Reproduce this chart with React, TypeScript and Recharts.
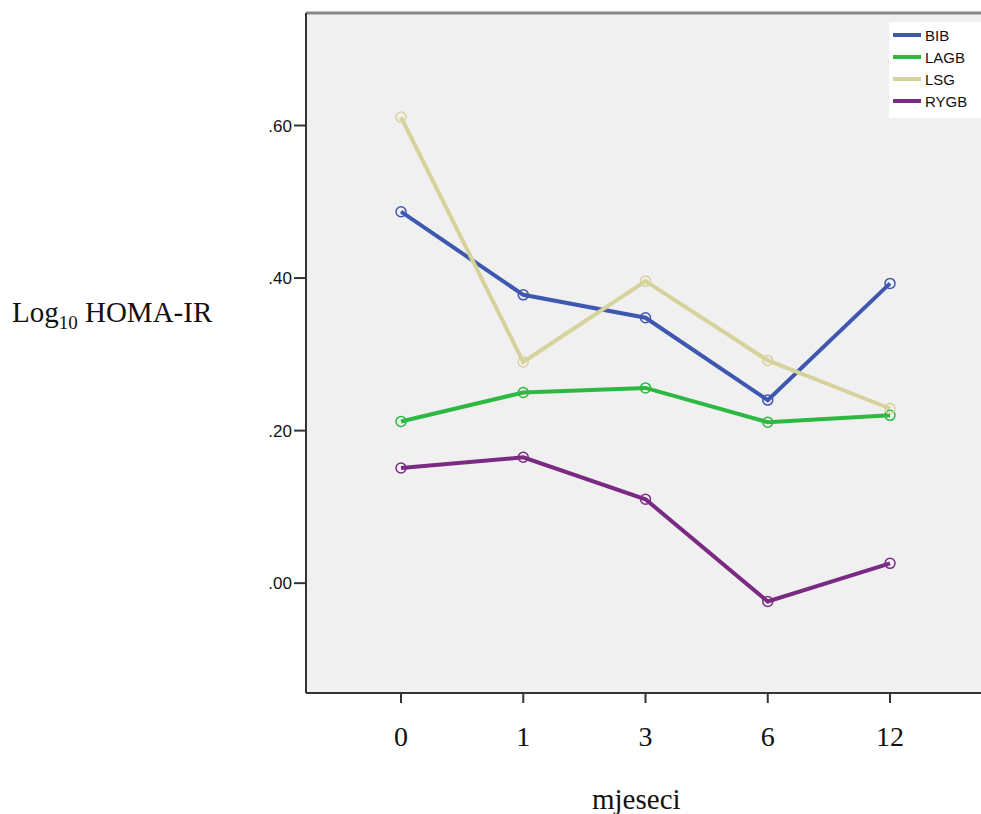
import { LineChart, Line, XAxis, YAxis, CartesianGrid, ReferenceLine } from "recharts"

const months = ["0", "1", "3", "6", "12"]
const bib = [0.487, 0.378, 0.348, 0.24, 0.393]
const lagb = [0.212, 0.25, 0.256, 0.211, 0.22]
const lsg = [0.611, 0.29, 0.396, 0.292, 0.229]
const rygb = [0.151, 0.165, 0.11, -0.024, 0.026]
const yTicks = [0, 0.2, 0.4, 0.6]

const series = [
  { key: "BIB", values: bib, color: "#3e58b0" },
  { key: "LAGB", values: lagb, color: "#2db842" },
  { key: "LSG", values: lsg, color: "#d6d29c" },
  { key: "RYGB", values: rygb, color: "#7b2a83" },
]

const data = months.map((m, i) => {
  const row: Record<string, string | number> = { month: m }
  series.forEach((s) => (row[s.key] = s.values[i]))
  return row
})

const Y_MIN = -0.144
const Y_MAX = 0.7475

// legend box in the top-right corner of the plot
function LegendBox() {
  return (
    <div
      style={{
        position: "absolute",
        left: 889,
        top: 22,
        background: "#fff",
        width: 92,
        height: 96,
        paddingTop: 2,
        boxSizing: "border-box",
        fontFamily: "Arial, 'Liberation Sans', sans-serif",
        fontSize: 15,
        color: "#111",
      }}
    >
      {series.map((s) => (
        <div key={s.key} style={{ display: "flex", alignItems: "center", height: 22 }}>
          <div style={{ width: 28, height: 4, background: s.color, marginLeft: 4, marginRight: 4 }} />
          <span>{s.key}</span>
        </div>
      ))}
    </div>
  )
}

export default function App() {
  return (
    <div
      style={{
        position: "absolute",
        left: 0,
        top: 0,
        width: 981,
        height: 814,
        overflow: "hidden",
        background: "#fff",
      }}
    >
      <LineChart
        width={1000}
        height={814}
        data={data}
        margin={{ top: 13, right: 10, bottom: 0, left: 246 }}
      >
        <CartesianGrid fill="#f0f0f0" horizontal={false} vertical={false} />
        <XAxis
          dataKey="month"
          padding={{ left: 95, right: 100 }}
          height={121}
          axisLine={{ stroke: "#333", strokeWidth: 2 }}
          tickLine={{ stroke: "#333", strokeWidth: 2 }}
          tickSize={10}
          tickMargin={23}
          tick={{ fill: "#111", fontSize: 28, fontFamily: "'Times New Roman', 'Liberation Serif', serif" }}
        />
        <YAxis
          width={60}
          type="number"
          domain={[Y_MIN, Y_MAX]}
          ticks={yTicks}
          allowDataOverflow
          axisLine={{ stroke: "#333", strokeWidth: 2 }}
          tickLine={{ stroke: "#333", strokeWidth: 2 }}
          tickSize={12}
          tickMargin={2}
          tickFormatter={(v: number) => v.toFixed(2).replace(/^0/, "")}
          tick={{ fill: "#111", fontSize: 17, fontFamily: "Arial, 'Liberation Sans', sans-serif" }}
        />
        <ReferenceLine y={Y_MAX} stroke="#888" strokeWidth={3} />
        {series.map((s) => (
          <Line
            key={s.key}
            dataKey={s.key}
            stroke={s.color}
            strokeWidth={4}
            isAnimationActive={false}
            dot={{ r: 5, fill: "none", stroke: s.color, strokeWidth: 1.5 }}
            activeDot={false}
          />
        ))}
      </LineChart>
      <LegendBox />
      <div
        style={{
          position: "absolute",
          left: 12,
          top: 296,
          fontFamily: "'Times New Roman', 'Liberation Serif', serif",
          fontSize: 29,
          color: "#111",
          whiteSpace: "nowrap",
        }}
      >
        Log<sub style={{ fontSize: 19 }}>10</sub> HOMA-IR
      </div>
      <div
        style={{
          position: "absolute",
          left: 592,
          top: 783,
          fontFamily: "'Times New Roman', 'Liberation Serif', serif",
          fontSize: 29,
          color: "#111",
        }}
      >
        mjeseci
      </div>
    </div>
  )
}
